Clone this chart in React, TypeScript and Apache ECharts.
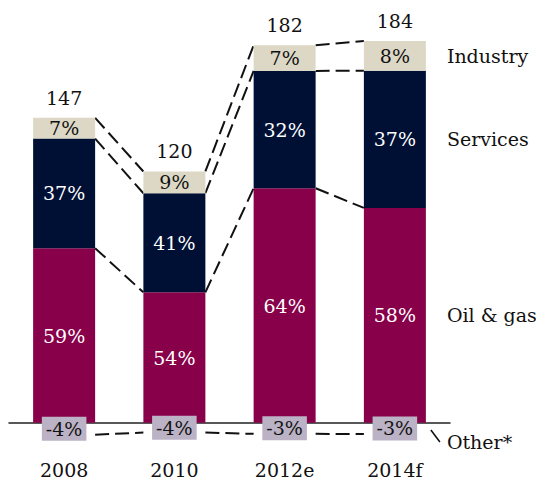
import React, { useEffect, useRef } from "react";
import * as echarts from "echarts";

const categories = ["2008", "2010", "2012e", "2014f"];
const totals = [147, 120, 182, 184];
const oilGasPct = [59, 54, 64, 58];
const servicesPct = [37, 41, 32, 37];
const industryPct = [7, 9, 7, 8];
const otherPct = [-4, -4, -3, -3];
const segmentNames = ["Oil & gas", "Services", "Industry", "Other*"];

const FONT = "DejaVu Serif";
const FS = 19;
const BAR_W = 62;
const C_OIL = "#870049";
const C_SERV = "#001035";
const C_IND = "#ddd8c6";
const C_OTH = "#bbb2c5";
const C_TEXT = "#111";

export default function App() {
  const ref = useRef<HTMLDivElement>(null);
  useEffect(() => {
    const chart = echarts.init(ref.current!, null, { renderer: "svg" });
    const abs = (p: number[]) => p.map((v, i) => (totals[i] * v) / 100);
    const oil = abs(oilGasPct);
    const serv = abs(servicesPct);
    const ind = abs(industryPct);
    const oth = abs(otherPct);
    const servTop = oil.map((v, i) => v + serv[i]);
    const indTop = servTop.map((v, i) => v + ind[i]);
    const levels = [oil, servTop, indTop, oth];
    const connectorData: number[][] = [];
    levels.forEach((lv) => {
      for (let i = 0; i < lv.length - 1; i++) connectorData.push([i, lv[i], lv[i + 1]]);
    });
    const last = categories.length - 1;
    const nameData = [
      [last, oil[last] / 2, 0],
      [last, (oil[last] + servTop[last]) / 2, 1],
      [last, (servTop[last] + indTop[last]) / 2, 2],
      [last, oth[last], 3],
    ];
    const pctLabel = (arr: number[], color: string) => ({
      show: true,
      position: "inside",
      color,
      fontFamily: FONT,
      fontSize: FS,
      formatter: (p: any) => arr[p.dataIndex] + "%",
    });

    chart.setOption({
      animation: false,
      grid: { left: 9, right: 86, top: 20, bottom: 44, containLabel: false, outerBoundsMode: "none" },
      xAxis: {
        type: "category",
        data: categories,
        axisLine: { show: true, onZero: true, lineStyle: { color: "#222", width: 1.5 } },
        axisTick: { show: false },
        axisLabel: { margin: 17, color: C_TEXT, fontFamily: FONT, fontSize: FS },
      },
      yAxis: { type: "value", min: -10, max: 200, show: false, splitLine: { show: false } },
      series: [
        {
          type: "bar", name: "Oil & gas", stack: "a", barWidth: BAR_W, data: oil,
          itemStyle: { color: C_OIL }, label: pctLabel(oilGasPct, "#fff"),
        },
        {
          type: "bar", name: "Services", stack: "a", data: serv,
          itemStyle: { color: C_SERV }, label: pctLabel(servicesPct, "#fff"),
        },
        {
          type: "bar", name: "Industry", stack: "a", data: ind,
          itemStyle: { color: C_IND }, label: pctLabel(industryPct, C_TEXT),
        },
        {
          type: "bar", name: "Other", stack: "a", data: oth,
          itemStyle: { color: "rgba(0,0,0,0)" },
          label: {
            ...pctLabel(otherPct, C_TEXT),
            backgroundColor: C_OTH,
            padding: [3, 4, 3, 4],
            lineHeight: 18,
          },
          z: 5,
        },
        {
          type: "scatter", data: indTop.map((v, i) => [i, v]), symbolSize: 1,
          itemStyle: { color: "rgba(0,0,0,0)", opacity: 1 },
          label: {
            show: true, position: "top", distance: 10, color: C_TEXT, opacity: 1,
            fontFamily: FONT, fontSize: FS,
            formatter: (p: any) => String(totals[p.dataIndex]),
          },
        },
        {
          type: "custom", data: connectorData, z: 1,
          renderItem: (params: any, api: any) => {
            const i = api.value(0);
            const p1 = api.coord([i, api.value(1)]);
            const p2 = api.coord([i + 1, api.value(2)]);
            return {
              type: "line",
              shape: { x1: p1[0] + BAR_W / 2, y1: p1[1], x2: p2[0] - BAR_W / 2, y2: p2[1] },
              style: { stroke: "#111", lineWidth: 2, lineDash: [14, 6] },
            };
          },
        },
        {
          type: "custom", data: nameData,
          renderItem: (params: any, api: any) => {
            const p = api.coord([api.value(0), api.value(1)]);
            const k = api.value(2);
            const x = p[0] + BAR_W / 2 + 21;
            const isOther = k === 3;
            const children: any[] = [
              {
                type: "text",
                x, y: p[1] + (isOther ? 8 : 0),
                style: {
                  text: segmentNames[k], fill: C_TEXT, fontFamily: FONT, fontSize: FS,
                  align: "left", verticalAlign: "middle",
                },
              },
            ];
            if (isOther) {
              children.push({
                type: "line",
                shape: { x1: p[0] + 36, y1: p[1] - 4, x2: p[0] + 45, y2: p[1] + 8 },
                style: { stroke: "#111", lineWidth: 1.5 },
              });
            }
            return { type: "group", children };
          },
        },
      ],
    });
    return () => chart.dispose();
  }, []);
  return (
    <div
      ref={ref}
      style={{ position: "fixed", left: 0, top: 0, width: 536, height: 487, background: "#fff" }}
    />
  );
}
